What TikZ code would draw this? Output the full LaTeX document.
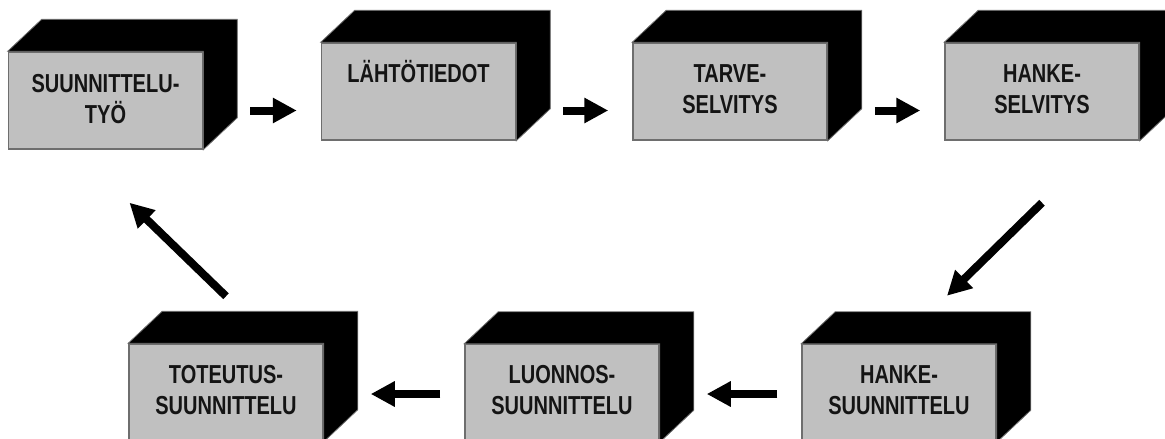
\documentclass[tikz,border=0pt]{standalone}
\usepackage{fontspec}
\newfontfamily\boxfont{Liberation Sans}[FakeStretch=0.77]
\usetikzlibrary{arrows.meta}

\definecolor{boxgray}{HTML}{C0C0C0}
\definecolor{edgegray}{HTML}{6E6E6E}

\tikzset{
  block/.style={draw=edgegray, line width=1.5pt, fill=boxgray,
    minimum width=194pt, minimum height=97pt, inner sep=0pt},
  boxtext/.style={anchor=base, align=center, inner sep=0pt, text=black!92,
    font=\boxfont\bfseries\fontsize{26}{31}\selectfont},
  bigarrow/.style={line width=8pt, -{Triangle[length=24pt,width=24pt]}},
}

\begin{document}
\begin{tikzpicture}[x=1pt, y=-1pt]
  \useasboundingbox (0,0) rectangle (1165,439);

  % top row
  \node[block] (suun) at (105.5,100.5) {};
  \node[block] (lahto) at (418.5,91.5) {};
  \node[block] (tarve) at (730,91.5) {};
  \node[block] (hselv) at (1042,91.5) {};

  % bottom row
  \node[block] (toteu) at (226,392.5) {};
  \node[block] (luonn) at (562,393) {};
  \node[block] (hsuun) at (899,393) {};

  % black top and side faces
  \foreach \n in {suun,lahto,tarve,hselv,toteu,luonn,hsuun}
    \filldraw[black, draw=edgegray, line width=0.8pt]
      (\n.north west) -- ++(34,-32) -- ([shift={(34,-32)}]\n.north east)
      -- ([shift={(34,-32)}]\n.south east) -- (\n.south east)
      -- (\n.north east) -- cycle;

  % labels (base = baseline of the last line)
  \node[boxtext] (suun-t) at ([yshift=-72pt]suun.north) {SUUNNITTELU-\\TYÖ};
  \node[boxtext] (lahto-t) at ([yshift=-40pt]lahto.north) {LÄHTÖTIEDOT};
  \node[boxtext] (tarve-t) at ([yshift=-71pt]tarve.north) {TARVE-\\SELVITYS};
  \node[boxtext] (hselv-t) at ([yshift=-71pt]hselv.north) {HANKE-\\SELVITYS};
  \node[boxtext] (toteu-t) at ([yshift=-71pt]toteu.north) {TOTEUTUS-\\SUUNNITTELU};
  \node[boxtext] (luonn-t) at ([yshift=-71pt]luonn.north) {LUONNOS-\\SUUNNITTELU};
  \node[boxtext] (hsuun-t) at ([yshift=-71pt]hsuun.north) {HANKE-\\SUUNNITTELU};

  % arrows
  \coordinate (row1) at (0,110.5);
  \coordinate (row2) at (0,394);
  \draw[bigarrow, shorten <=47pt, shorten >=24pt] (suun.east |- row1) -- (lahto.west |- row1);
  \draw[bigarrow, shorten <=47pt, shorten >=24pt] (lahto.east |- row1) -- (tarve.west |- row1);
  \draw[bigarrow, shorten <=47pt, shorten >=24pt] (tarve.east |- row1) -- (hselv.west |- row1);
  \draw[bigarrow] ([yshift=-62pt]hselv.south) -- ([xshift=48pt,yshift=48pt]hsuun.north);
  \draw[bigarrow, shorten <=24pt, shorten >=47pt] (hsuun.west |- row2) -- (luonn.east |- row2);
  \draw[bigarrow, shorten <=24pt, shorten >=47pt] (luonn.west |- row2) -- (toteu.east |- row2);
  \draw[bigarrow] ([yshift=47pt]toteu.north) -- ([xshift=24pt,yshift=-53pt]suun.south);
\end{tikzpicture}
\end{document}
